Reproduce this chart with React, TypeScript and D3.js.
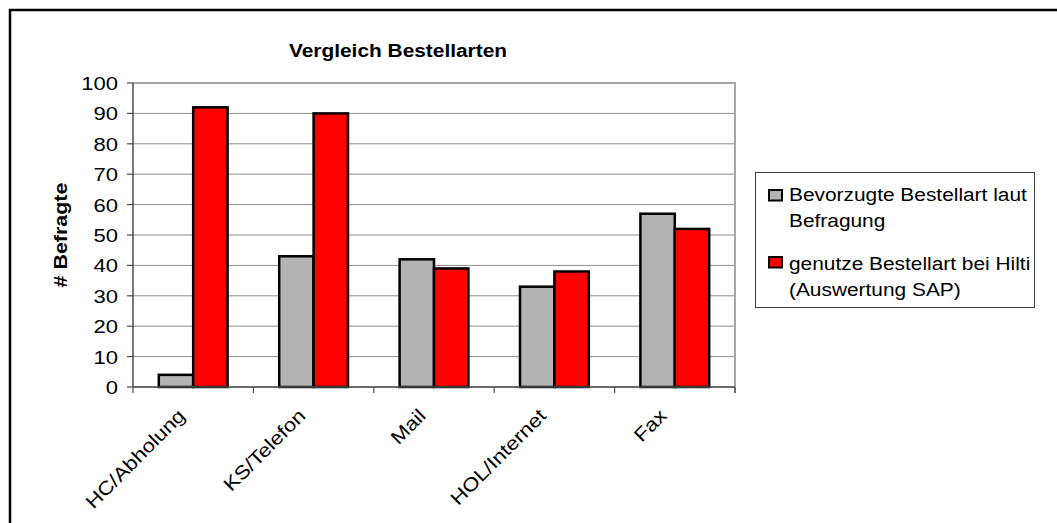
import React from "react";
import * as d3 from "d3";

const categories = ["HC/Abholung", "KS/Telefon", "Mail", "HOL/Internet", "Fax"];
const seriesNames = [
  ["Bevorzugte Bestellart laut", "Befragung"],
  ["genutze Bestellart bei Hilti", "(Auswertung SAP)"],
];
const preferred = [4, 43, 42, 33, 57];
const used = [92, 90, 39, 38, 52];
const yTicks = [0, 10, 20, 30, 40, 50, 60, 70, 80, 90, 100];
const title = "Vergleich Bestellarten";
const yTitle = "# Befragte";

const W = 1057;
const H = 523;
const plot = { left: 133, right: 735, top: 83, bottom: 387 };
const colors = ["#b3b3b3", "#ff0000"];
const font = "'Liberation Sans', Arial, sans-serif";
const SX = 1.16;

export default function App() {
  const x = d3
    .scaleBand<string>()
    .domain(categories)
    .range([plot.left, plot.right])
    .paddingInner(0)
    .paddingOuter(0);
  const y = d3.scaleLinear().domain([0, 100]).range([plot.bottom, plot.top]);
  const step = x.step();
  const barW = step / 3.5;
  const series = [preferred, used];

  return (
    <svg
      width={W}
      height={H}
      style={{ position: "absolute", left: 0, top: 0, background: "#fff" }}
      fontFamily={font}
    >
      <rect x={0} y={0} width={W} height={H} fill="#fff" />
      {/* outer chart border */}
      <rect x={10} y={10} width={W + 20} height={H + 20} fill="none" stroke="#000" strokeWidth={2.5} />

      {/* title */}
      <text
        transform={`translate(398,56.5) scale(${SX},1)`}
        textAnchor="middle"
        fontSize={18}
        fontWeight="bold"
        fill="#000"
      >
        {title}
      </text>

      {/* gridlines */}
      {yTicks.map((t) => (
        <line
          key={"g" + t}
          x1={plot.left}
          x2={plot.right}
          y1={y(t)}
          y2={y(t)}
          stroke={t === 100 ? "#a6a6a6" : "#8c8c8c"}
          strokeWidth={t === 100 ? 2 : 1}
        />
      ))}
      {/* right border of plot */}
      <line x1={plot.right} x2={plot.right} y1={plot.top - 1} y2={plot.bottom + 6} stroke="#a6a6a6" strokeWidth={2} />

      {/* bars */}
      {categories.map((c, i) => {
        const cx = (x(c) as number) + step / 2;
        return series.map((s, k) => (
          <rect
            key={c + k}
            x={cx - barW + k * barW}
            y={y(s[i])}
            width={barW}
            height={y(0) - y(s[i])}
            fill={colors[k]}
            stroke="#000"
            strokeWidth={2.5}
          />
        ));
      })}

      {/* axes */}
      <line x1={plot.left} x2={plot.left} y1={plot.top} y2={plot.bottom} stroke="#4d4d4d" strokeWidth={1.5} />
      <line x1={plot.left} x2={plot.right} y1={plot.bottom} y2={plot.bottom} stroke="#4d4d4d" strokeWidth={1.5} />
      {yTicks.map((t) => (
        <g key={"yt" + t}>
          <line x1={plot.left - 6} x2={plot.left} y1={y(t)} y2={y(t)} stroke="#4d4d4d" strokeWidth={1.2} />
          <text
            transform={`translate(118,${y(t) + 7}) scale(${SX},1)`}
            textAnchor="end"
            fontSize={19}
            fill="#000"
          >
            {t}
          </text>
        </g>
      ))}
      {d3.range(categories.length + 1).map((i) => (
        <line
          key={"xt" + i}
          x1={plot.left + i * step}
          x2={plot.left + i * step}
          y1={plot.bottom}
          y2={plot.bottom + 6}
          stroke="#4d4d4d"
          strokeWidth={1.2}
        />
      ))}
      {categories.map((c) => {
        const cx = (x(c) as number) + step / 2;
        return (
          <text
            key={"xl" + c}
            transform={`translate(${cx - 7},417) rotate(-45) scale(${SX},1)`}
            textAnchor="end"
            fontSize={19}
            fill="#000"
          >
            {c}
          </text>
        );
      })}

      {/* y title */}
      <text
        transform={`translate(67,${(plot.top + plot.bottom) / 2}) rotate(-90) scale(${SX},1)`}
        textAnchor="middle"
        fontSize={18.5}
        fontWeight="bold"
        fill="#000"
      >
        {yTitle}
      </text>

      {/* legend */}
      <rect x={755.5} y={172.5} width={279} height={135} fill="#fff" stroke="#404040" strokeWidth={1} />
      {seriesNames.map((lines, k) => {
        const top = k === 0 ? 190 : 257;
        const base = k === 0 ? 200.7 : 270;
        return (
          <g key={"lg" + k}>
            <rect x={769} y={top} width={13} height={10.5} fill={colors[k]} stroke="#000" strokeWidth={2} />
            {lines.map((ln, j) => (
              <text
                key={j}
                transform={`translate(789,${base + j * 26}) scale(${SX},1)`}
                fontSize={18}
                fill="#000"
              >
                {ln}
              </text>
            ))}
          </g>
        );
      })}
    </svg>
  );
}
